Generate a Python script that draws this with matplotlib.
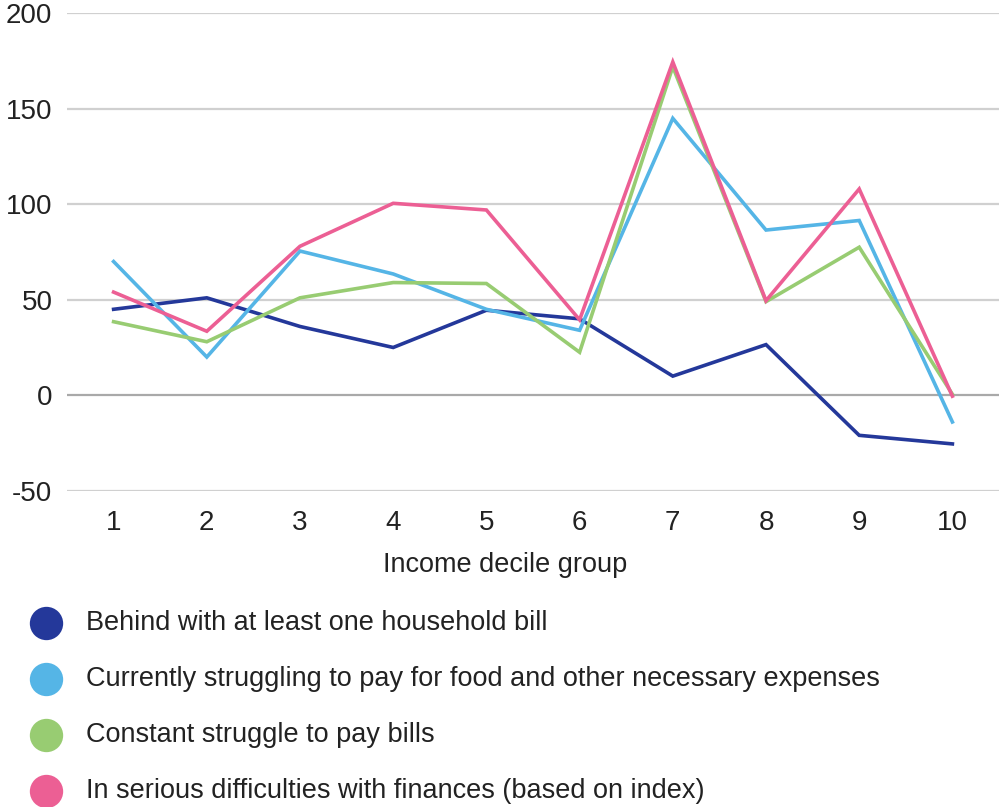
import matplotlib
matplotlib.use("Agg")
import matplotlib.pyplot as plt
from matplotlib.lines import Line2D

plt.rcParams['font.family'] = ['Liberation Sans', 'DejaVu Sans']

deciles = [1, 2, 3, 4, 5, 6, 7, 8, 9, 10]

behind_with_bill = [45, 51, 36, 25, 44.5, 40, 10, 26.5, -21, -25.5]
struggling_food = [70, 20, 75.5, 63.5, 45, 34, 145, 86.5, 91.5, -14]
constant_struggle = [38.5, 28, 51, 59, 58.5, 22.5, 172, 49, 77.5, 0.5]
serious_difficulties = [54, 33.5, 78, 100.5, 97, 39.5, 174.5, 49.5, 108, -0.5]

series_labels = [
    "Behind with at least one household bill",
    "Currently struggling to pay for food and other necessary expenses",
    "Constant struggle to pay bills",
    "In serious difficulties with finances (based on index)",
]
series_colors = ["#24389a", "#55b5e6", "#98cc72", "#ec5f94"]
series_values = [behind_with_bill, struggling_food, constant_struggle, serious_difficulties]

y_ticks = [-50, 0, 50, 100, 150, 200]

W, H = 1008, 807
fig = plt.figure(figsize=(W / 100, H / 100), dpi=100)
ax = fig.add_axes([67 / W, (H - 490.7) / H, (999 - 67) / W, (490.7 - 13.3) / H])

for tick in y_ticks:
    color = "#a9a9a9" if tick == 0 else "#d0d0d0"
    ax.axhline(tick, color=color, lw=1.6, zorder=1)

for vals, col in zip(series_values, series_colors):
    ax.plot(deciles, vals, color=col, lw=2.6, zorder=3, solid_joinstyle="miter")

ax.set_xlim(0.5, 10.5)
ax.set_ylim(-50, 200)
ax.set_yticks(y_ticks)
ax.set_yticklabels([str(t) for t in y_ticks])
ax.set_xticks(deciles)
ax.set_xticklabels([str(d) for d in deciles])
ax.tick_params(axis="both", length=0, labelsize=20, colors="#222222")
ax.tick_params(axis="y", pad=10.5)
ax.tick_params(axis="x", pad=14)
for s in ax.spines.values():
    s.set_visible(False)

fig.text(505 / W, (H - 565) / H, "Income decile group", fontsize=19.5,
         color="#222222", ha="center", va="center")

# Legend: coloured dots with labels below the chart
legend_y = [622.7, 679, 735, 791]
for y, lab, col in zip(legend_y, series_labels, series_colors):
    fig.add_artist(Line2D([46 / W], [(H - y) / H], marker="o", markersize=24,
                          color=col, markeredgewidth=0, transform=fig.transFigure))
    fig.text(86 / W, (H - y) / H, lab, fontsize=19.5, color="#222222",
             va="center", ha="left")

fig.savefig("out.png", dpi=100)
